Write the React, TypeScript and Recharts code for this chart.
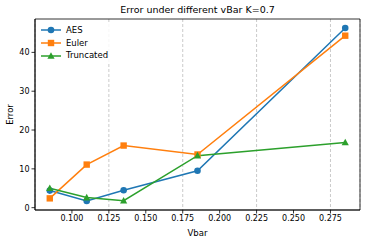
import React from 'react';
import {
    LineChart,
    Line,
    XAxis,
    YAxis,
    CartesianGrid,
    ReferenceArea,
} from 'recharts';

const vbar = [0.085, 0.11, 0.135, 0.185, 0.285];
const aes = [4.4, 1.7, 4.5, 9.5, 46.3];
const euler = [2.4, 11.1, 16.0, 13.7, 44.3];
const truncated = [5.0, 2.6, 1.8, 13.4, 16.8];

const xTicks = [0.1, 0.125, 0.15, 0.175, 0.2, 0.225, 0.25, 0.275];
const yTicks = [0, 10, 20, 30, 40];

const SERIES = [
    { key: 'aes', name: 'AES', color: '#1f77b4', marker: 'circle' },
    { key: 'euler', name: 'Euler', color: '#ff7f0e', marker: 'square' },
    { key: 'truncated', name: 'Truncated', color: '#2ca02c', marker: 'triangle' },
];

const data = vbar.map((v, i) => ({
    vbar: v,
    aes: aes[i],
    euler: euler[i],
    truncated: truncated[i],
}));

const FONT = '"DejaVu Sans", sans-serif';

function Marker({ cx, cy, shape, color }: any) {
    if (cx == null || cy == null) return null;
    if (shape === 'square') {
        return <rect x={cx - 3.2} y={cy - 3.2} width={6.4} height={6.4} fill={color} />;
    }
    if (shape === 'triangle') {
        return (
            <polygon
                points={`${cx},${cy - 3.8} ${cx - 3.6},${cy + 2.8} ${cx + 3.6},${cy + 2.8}`}
                fill={color}
            />
        );
    }
    return <circle cx={cx} cy={cy} r={3.3} fill={color} />;
}

// legend drawn as an overlay so it takes no room from the plot
const LegendBox = () => (
    <div
        style={{
            position: 'absolute',
            left: 37,
            top: 23,
            background: 'rgba(255,255,255,0.85)',
            padding: '1px 3px',
            fontFamily: FONT,
            fontSize: 8.5,
            lineHeight: '12.7px',
            color: '#000',
        }}
    >
        {SERIES.map((s) => (
            <div key={s.key} style={{ display: 'flex', alignItems: 'center' }}>
                <svg width={22} height={10} style={{ marginRight: 4 }}>
                    <line x1={1} y1={5} x2={21} y2={5} stroke={s.color} strokeWidth={1.5} />
                    <Marker cx={11} cy={5} shape={s.marker} color={s.color} />
                </svg>
                <span>{s.name}</span>
            </div>
        ))}
    </div>
);

export default function App() {
    return (
        <div style={{ position: 'absolute', left: 0, top: 0, width: 366, height: 242, background: '#fff' }}>
            <div
                style={{
                    position: 'absolute',
                    left: 35,
                    width: 325,
                    top: 4,
                    textAlign: 'center',
                    fontFamily: FONT,
                    fontSize: 9.5,
                    color: '#000',
                    lineHeight: '12px',
                }}
            >
                Error under different vBar K=0.7
            </div>
            <LineChart
                width={366}
                height={242}
                data={data}
                margin={{ top: 19, right: 6, bottom: 0, left: 0 }}
            >
                <CartesianGrid
                    horizontal={false}
                    stroke="#bdbdbd"
                    strokeDasharray="3 2"
                    strokeWidth={0.8}
                />
                <XAxis
                    dataKey="vbar"
                    type="number"
                    domain={[0.075, 0.295]}
                    ticks={xTicks}
                    tickFormatter={(v: number) => v.toFixed(3)}
                    height={32}
                    tickSize={3.5}
                    tick={{ fontSize: 8, fill: '#000', fontFamily: FONT }}
                    axisLine={{ stroke: '#000', strokeWidth: 0.8 }}
                    tickLine={{ stroke: '#000', strokeWidth: 0.8 }}
                    allowDataOverflow
                    label={{
                        value: 'Vbar',
                        position: 'insideBottom',
                        offset: 6,
                        style: { fontSize: 8.5, fill: '#000', fontFamily: FONT },
                    }}
                />
                <YAxis
                    type="number"
                    domain={[-0.6, 48.6]}
                    ticks={yTicks}
                    width={35}
                    tickSize={3.5}
                    tick={{ fontSize: 8, fill: '#000', fontFamily: FONT }}
                    axisLine={{ stroke: '#000', strokeWidth: 0.8 }}
                    tickLine={{ stroke: '#000', strokeWidth: 0.8 }}
                    allowDataOverflow
                    label={(props: any) => {
                        const vb = props.viewBox || {};
                        const x = 10;
                        const y = (vb.y ?? 19) + (vb.height ?? 191) / 2;
                        return (
                            <text
                                x={x}
                                y={y}
                                transform={`rotate(-90, ${x}, ${y})`}
                                textAnchor="middle"
                                dominantBaseline="central"
                                fontSize={8.5}
                                fontFamily={FONT}
                                fill="#000"
                            >
                                Error
                            </text>
                        );
                    }}
                />
                <ReferenceArea
                    x1={0.075}
                    x2={0.295}
                    y1={-0.6}
                    y2={48.6}
                    fill="none"
                    stroke="#000"
                    strokeWidth={0.8}
                />
                {SERIES.map((s) => (
                    <Line
                        key={s.key}
                        dataKey={s.key}
                        name={s.name}
                        type="linear"
                        stroke={s.color}
                        strokeWidth={1.5}
                        isAnimationActive={false}
                        dot={(p: any) => (
                            <Marker key={`${s.key}-${p.index}`} cx={p.cx} cy={p.cy} shape={s.marker} color={s.color} />
                        )}
                        activeDot={false}
                    />
                ))}
            </LineChart>
            <LegendBox />
        </div>
    );
}
